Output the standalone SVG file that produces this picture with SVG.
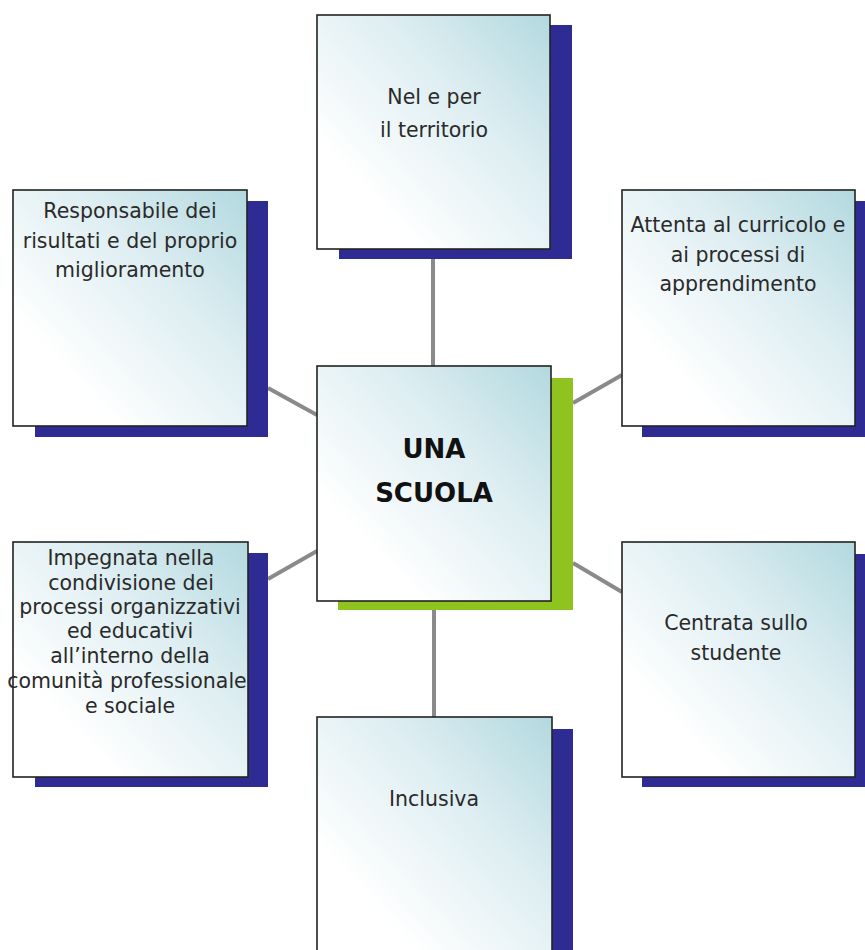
<svg xmlns="http://www.w3.org/2000/svg" width="865" height="950" viewBox="0 0 865 950">
  <defs>
    <linearGradient id="boxfill" x1="1" y1="0" x2="0.2" y2="0.75">
      <stop offset="0" stop-color="#b2d9df"/>
      <stop offset="0.45" stop-color="#dcedf1"/>
      <stop offset="1" stop-color="#ffffff"/>
    </linearGradient>
    <style>
      .box { fill: url(#boxfill); stroke: #222222; stroke-width: 1.6; }
      .shadow { fill: #2e2b92; }
      .shadow-green { fill: #8fc31f; }
      .conn { stroke: #8a8a8a; stroke-width: 4; fill: none; }
      .lbl { font-family: "DejaVu Sans", "Liberation Sans", sans-serif; font-size: 20.5px; fill: #2a2a2a; text-anchor: middle; }
      .main { font-family: "DejaVu Sans", "Liberation Sans", sans-serif; font-size: 26px; font-weight: bold; fill: #111111; text-anchor: middle; }
    </style>
  </defs>
  <rect x="0" y="0" width="865" height="950" fill="#ffffff"/>

  <g id="connectors">
    <line class="conn" x1="433" y1="250" x2="433" y2="366"/>
    <line class="conn" x1="434" y1="610" x2="434" y2="717"/>
    <line class="conn" x1="268" y1="388" x2="317" y2="415"/>
    <line class="conn" x1="573" y1="403" x2="622" y2="375"/>
    <line class="conn" x1="268" y1="579" x2="317" y2="551"/>
    <line class="conn" x1="573" y1="563" x2="622" y2="592"/>
  </g>

  <g id="node-top">
    <rect class="shadow" x="339" y="25" width="233" height="234"/>
    <rect class="box" x="317" y="15" width="233" height="234"/>
    <text class="lbl" x="434" y="104">Nel e per</text>
    <text class="lbl" x="434" y="137">il territorio</text>
  </g>

  <g id="node-left-top">
    <rect class="shadow" x="35" y="201" width="233" height="236"/>
    <rect class="box" x="13" y="190" width="234" height="236"/>
    <text class="lbl" x="130" y="218">Responsabile dei</text>
    <text class="lbl" x="130" y="248">risultati e del proprio</text>
    <text class="lbl" x="130" y="277">miglioramento</text>
  </g>

  <g id="node-right-top">
    <rect class="shadow" x="642" y="201" width="223" height="236"/>
    <rect class="box" x="622" y="190" width="233" height="236"/>
    <text class="lbl" x="738" y="232">Attenta al curricolo e</text>
    <text class="lbl" x="738" y="262">ai processi di</text>
    <text class="lbl" x="738" y="291">apprendimento</text>
  </g>

  <g id="node-center">
    <rect class="shadow-green" x="338" y="378" width="235" height="232"/>
    <rect class="box" x="317" y="366" width="234" height="235"/>
    <text class="main" x="434" y="458">UNA</text>
    <text class="main" x="434" y="502">SCUOLA</text>
  </g>

  <g id="node-left-bottom">
    <rect class="shadow" x="35" y="553" width="233" height="234"/>
    <rect class="box" x="13" y="542" width="235" height="235"/>
    <text class="lbl" x="131" y="565">Impegnata nella</text>
    <text class="lbl" x="131" y="590">condivisione dei</text>
    <text class="lbl" x="130" y="614">processi organizzativi</text>
    <text class="lbl" x="130" y="638">ed educativi</text>
    <text class="lbl" x="130" y="663">all’interno della</text>
    <text class="lbl" x="127" y="688">comunità professionale</text>
    <text class="lbl" x="130" y="713">e sociale</text>
  </g>

  <g id="node-right-bottom">
    <rect class="shadow" x="642" y="554" width="223" height="233"/>
    <rect class="box" x="622" y="542" width="233" height="235"/>
    <text class="lbl" x="736" y="630">Centrata sullo</text>
    <text class="lbl" x="736" y="660">studente</text>
  </g>

  <g id="node-bottom">
    <rect class="shadow" x="339" y="729" width="234" height="230"/>
    <rect class="box" x="317" y="717" width="235" height="240"/>
    <text class="lbl" x="434" y="806">Inclusiva</text>
  </g>
</svg>
